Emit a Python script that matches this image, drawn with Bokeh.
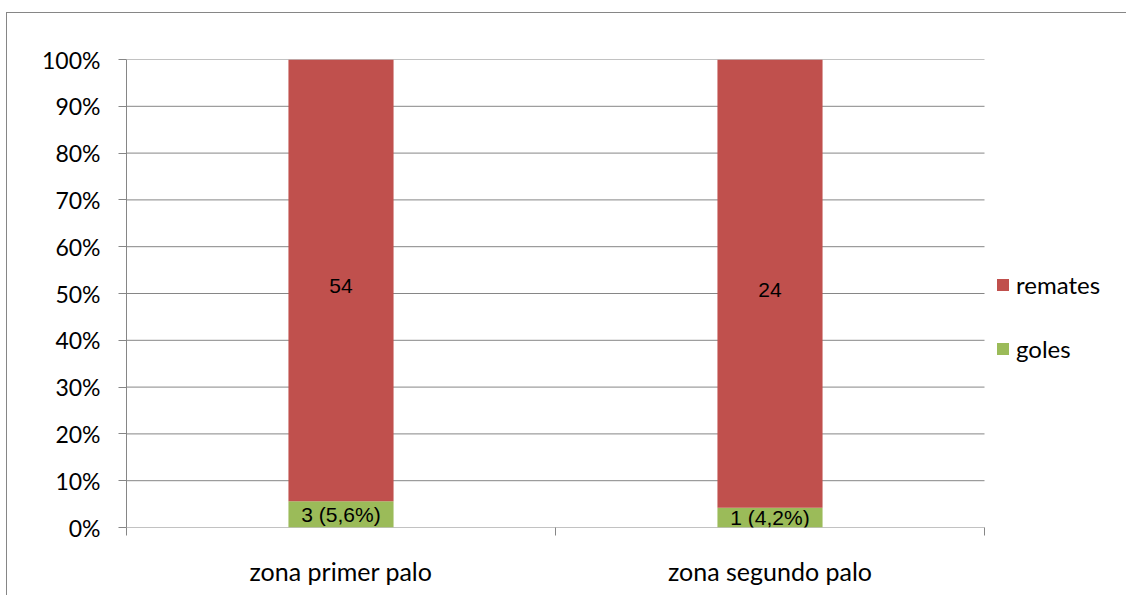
from bokeh.plotting import figure
from bokeh.models import (ColumnDataSource, FixedTicker, PrintfTickFormatter, Range1d,
                          Legend, LegendItem)
from bokeh.core.properties import value
from bokeh.embed import file_html
from bokeh.resources import INLINE

categories = ["zona primer palo", "zona segundo palo"]
goles_pct = [5.6, 4.2]
remates_pct = [94.4, 95.8]
goles_labels = ["3 (5,6%)", "1 (4,2%)"]
remates_labels = ["54", "24"]
y_ticks = list(range(0, 101, 10))

x_pos = [0.5, 1.5]
goles_mid = [g / 2 for g in goles_pct]
remates_mid = [g + r / 2 for g, r in zip(goles_pct, remates_pct)]

src = ColumnDataSource(dict(x=x_pos, goles=goles_pct, remates=remates_pct,
                            gl=goles_labels, rl=remates_labels,
                            gm=goles_mid, rm=remates_mid))

GRID = "#868686"
FONT = "Lato"

# frame spans from the value axis to the right edge; plot area is x in [0, 2]
FRAME_W = 1001
X_END = 2 * FRAME_W / 858.0

p = figure(width=1120, height=583, output_backend="svg", toolbar_location=None,
           x_range=Range1d(0, X_END), y_range=Range1d(0, 100),
           min_border_left=119, min_border_right=0, min_border_top=46,
           min_border_bottom=69)
p.styles = {"border-left": f"1px solid {GRID}", "border-top": f"1px solid {GRID}",
            "margin-top": "12px", "margin-left": "6px"}
p.outline_line_color = None
p.background_fill_color = "white"
p.border_fill_color = "white"
p.xgrid.grid_line_color = None
p.ygrid.grid_line_color = None

# horizontal gridlines limited to the plot area
p.segment(x0=[0] * len(y_ticks), x1=[2] * len(y_ticks), y0=y_ticks, y1=y_ticks,
          line_color=GRID, line_width=1)

rs = p.vbar_stack(["goles", "remates"], x="x", width=0.245, source=src,
                  color=["#9BBB59", "#C0504D"], line_color=None)

p.text(x="x", y="gm", text="gl", source=src, text_align="center", text_baseline="middle",
       text_font=value("Liberation Sans"), text_font_size="21px", text_color="black")
p.text(x="x", y="rm", text="rl", source=src, text_align="center", text_baseline="middle",
       y_offset=6, text_font=value("Liberation Sans"), text_font_size="21px",
       text_color="black")

# y axis
ya = p.yaxis[0]
ya.ticker = FixedTicker(ticks=y_ticks, minor_ticks=[])
ya.formatter = PrintfTickFormatter(format="%d%%")
ya.axis_line_color = GRID
ya.major_tick_line_color = GRID
ya.major_tick_out = 8
ya.major_tick_in = 0
ya.minor_tick_line_color = None
ya.major_label_text_font = FONT
ya.major_label_text_font_size = "23px"
ya.major_label_text_color = "black"
ya.major_label_standoff = 18

# x axis (line drawn by the 0% gridline segment)
xa = p.xaxis[0]
xa.ticker = FixedTicker(ticks=x_pos, minor_ticks=[0, 1, 2])
xa.major_label_overrides = {x: c for x, c in zip(x_pos, categories)}
xa.axis_line_color = None
xa.major_tick_line_color = None
xa.minor_tick_line_color = GRID
xa.minor_tick_out = 8
xa.minor_tick_in = 0
xa.major_label_text_font = FONT
xa.major_label_text_font_size = "25px"
xa.major_label_text_color = "black"
xa.major_label_standoff = 20

legend = Legend(items=[LegendItem(label="remates", renderers=[rs[1]]),
                       LegendItem(label="goles", renderers=[rs[0]])],
                location=(869, 164), orientation="vertical",
                glyph_width=15, glyph_height=15, label_text_font=FONT,
                label_text_font_size="24px", label_text_color="black",
                label_standoff=6, spacing=35, padding=0, margin=0,
                border_line_color=None, background_fill_alpha=0)
p.add_layout(legend, "center")

open("out.html", "w").write(file_html(p, INLINE))
